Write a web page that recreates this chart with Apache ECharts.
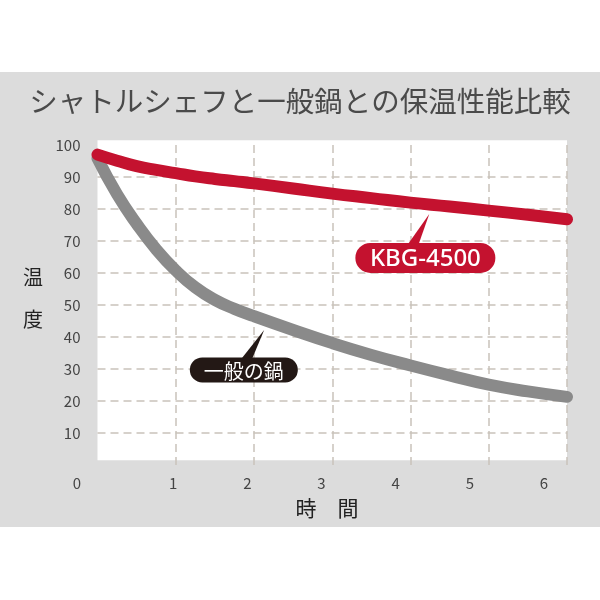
<!DOCTYPE html>
<html><head><meta charset="utf-8">
<script src="https://cdn.jsdelivr.net/npm/echarts@6/dist/echarts.min.js"></script>
<style>html,body{margin:0;padding:0;background:#fff}#c{width:600px;height:600px}</style>
</head><body><div id="c"></div>
<script>
// ---- data ----
const hours = [0, 0.25, 0.5, 0.75, 1, 1.25, 1.5, 1.75, 2, 2.5, 3, 3.5, 4, 4.5, 5, 5.5, 6];
const kbg4500 = [97, 95.1, 93.4, 92.2, 91.2, 90.2, 89.4, 88.7, 88, 86.4, 84.8, 83.4, 82, 80.8, 79.5, 78.2, 76.8];
const ordinaryPot = [95.8, 84.6, 75.4, 67.4, 60.8, 55.5, 51.6, 48.8, 46.5, 42.2, 38.1, 34.4, 31.1, 28, 25.1, 23, 21.3];
const xTickLabels = ['0', '1', '2', '3', '4', '5', '6'];
const yTickLabels = ['10', '20', '30', '40', '50', '60', '70', '80', '90', '100'];
const seriesNames = ['KBG-4500', '一般の鍋'];
const titleText = 'シャトルシェフと一般鍋との保温性能比較';
const xName = '時　間';
const yName = '温\n\n度';

// ---- chart ----
const RED = '#c4122f', GRAY = '#8a8a8a', DARK = '#231815';
const FONT = '"Noto Sans CJK JP", "Noto Sans", sans-serif';
const chart = echarts.init(document.getElementById('c'), null, {renderer: 'canvas'});
const pair = (xs, ys) => xs.map((x, i) => [x, ys[i]]);
const gridLine = {show: true, lineStyle: {color: '#c9c2ba', type: [8, 5], width: 1.5}};

chart.setOption({
  animation: false,
  backgroundColor: '#ffffff',
  textStyle: {fontFamily: FONT},
  title: {
    text: titleText, left: 'center', top: 82,
    textStyle: {fontSize: 28.5, fontWeight: 'normal', color: '#4a4a4a', fontFamily: FONT}
  },
  grid: [
    {left: 97.5, right: 33, top: 145, bottom: 135},
    {left: 99, width: 445, top: 145, bottom: 135}
  ],
  xAxis: [
    {type: 'value', gridIndex: 0, min: 0, max: 6, interval: 1,
     axisLine: {show: false}, axisTick: {show: false}, axisLabel: {show: false},
     splitLine: Object.assign({showMinLine: false, showMaxLine: true}, gridLine)},
    {type: 'value', gridIndex: 1, min: 0, max: 6, interval: 1,
     axisLine: {show: false}, axisTick: {show: false}, splitLine: {show: false},
     axisLabel: {
       margin: 11, fontSize: 15, color: '#444', fontFamily: FONT,
       formatter: v => v === 0 ? '{z|' + xTickLabels[0] + '}' : xTickLabels[v],
       rich: {z: {fontSize: 15, color: '#444', padding: [0, 44, 0, 0], fontFamily: FONT}}
     }}
  ],
  yAxis: [
    {type: 'value', gridIndex: 0, min: 0, max: 100, interval: 10,
     axisLine: {show: false}, axisTick: {show: false},
     axisLabel: {
       margin: 17, fontSize: 15, color: '#444', fontFamily: FONT, padding: [8, 0, 0, 0],
       formatter: v => yTickLabels.includes(String(v)) ? String(v) : ''
     },
     splitLine: Object.assign({showMinLine: false, showMaxLine: false}, gridLine)},
    {type: 'value', gridIndex: 1, min: 0, max: 100, show: false}
  ],
  series: [
    {name: seriesNames[1], type: 'line', xAxisIndex: 0, yAxisIndex: 0,
     data: pair(hours, ordinaryPot), smooth: 0.5, symbol: 'none', z: 3,
     lineStyle: {color: GRAY, width: 12, cap: 'round', join: 'round'}},
    {name: seriesNames[0], type: 'line', xAxisIndex: 0, yAxisIndex: 0,
     data: pair(hours, kbg4500), smooth: 0.5, symbol: 'none', z: 4,
     lineStyle: {color: RED, width: 12, cap: 'round', join: 'round'}}
  ]
});

// ---- backgrounds and callouts, positioned through the axes ----
const P = (x, y) => chart.convertToPixel({gridIndex: 0}, [x, y]);
const tl = P(0, 101.5), br = P(6, 1.5);

function callout(center, tip, w, h, base, color, text, font) {
  const c = P(center[0], center[1]);
  const t = P(tip[0], tip[1]);
  const top = c[1] - h / 2;
  return [
    {type: 'polygon', z: 50,
     shape: {points: [[c[0] + base[0], top + 2], [c[0] + base[1], top + 2], t]},
     style: {fill: color}},
    {type: 'rect', z: 50,
     shape: {x: c[0] - w / 2, y: top, width: w, height: h, r: h / 2},
     style: {fill: color}},
    {type: 'text', z: 51, x: c[0], y: c[1] + 1,
     style: {text: text, fill: '#fff', font: font, align: 'center', verticalAlign: 'middle'}}
  ];
}

chart.setOption({
  graphic: [
    {type: 'rect', z: -20, shape: {x: 0, y: 72, width: 600, height: 455}, style: {fill: '#dcdcdc'}},
    {type: 'rect', z: -10, shape: {x: tl[0], y: tl[1], width: br[0] - tl[0], height: br[1] - tl[1]}, style: {fill: '#ffffff'}},
    {type: 'text', z: 5, x: 33, y: 298,
     style: {text: yName, fill: '#222', font: '20px ' + FONT, lineHeight: 21, align: 'center', verticalAlign: 'middle'}},
    {type: 'text', z: 5, x: 327, y: 508,
     style: {text: xName, fill: '#222', font: '21px ' + FONT, align: 'center', verticalAlign: 'middle'}}
  ].concat(
    callout([4.19, 64.7], [4.24, 78.4], 140, 30, [-18, -7], RED, seriesNames[0], '500 24px "Noto Sans", sans-serif'),
    callout([1.87, 29.7], [2.13, 42.2], 108, 25, [-3, 8], DARK, seriesNames[1], '20px ' + FONT)
  )
});
</script></body></html>
